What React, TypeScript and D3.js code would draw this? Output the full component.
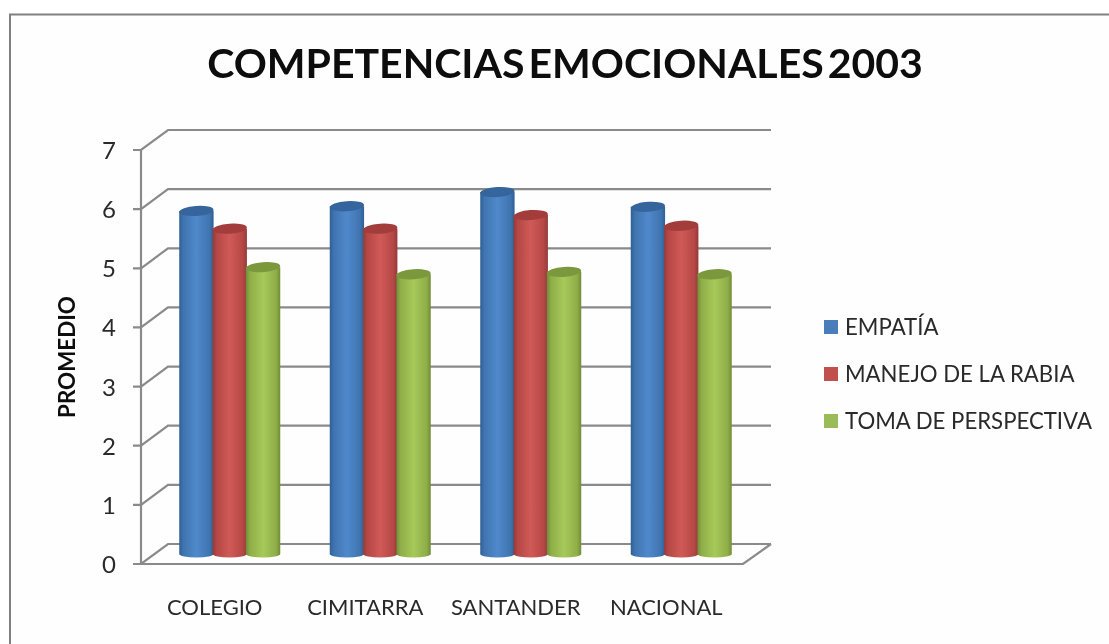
import React from "react";
import * as d3 from "d3";

const W = 1109, H = 644;
const title = "COMPETENCIAS EMOCIONALES 2003";
const yTitle = "PROMEDIO";
const categories = ["COLEGIO", "CIMITARRA", "SANTANDER", "NACIONAL"];
const seriesNames = ["EMPATÍA", "MANEJO DE LA RABIA", "TOMA DE PERSPECTIVA"];
const empatia = [5.8, 5.88, 6.12, 5.87];
const manejo = [5.5, 5.5, 5.73, 5.55];
const toma = [4.85, 4.73, 4.77, 4.73];
const yTicks = [0, 1, 2, 3, 4, 5, 6, 7];
const seriesValues = [empatia, manejo, toma];
const palette = [
  { id: "b", edge: "#2f5f94", dark: "#3f74b0", mid: "#5089cb", top: "#35659c", key: "#4a7ebb" },
  { id: "r", edge: "#923b38", dark: "#b54745", mid: "#d05a57", top: "#a23d3a", key: "#c0504d" },
  { id: "g", edge: "#718c38", dark: "#8fae48", mid: "#a6c95a", top: "#7c983e", key: "#9bbb59" },
];

const depthX = 27, depthY = 20;
const y = d3.scaleLinear().domain([0, 7]).range([564, 150]);
const x = d3.scaleBand().domain(categories).range([141, 743]);
const barShiftX = 13.5, barShiftY = 10;
const inner = d3.scaleBand().domain(seriesNames).range([-50, 50]);
const FONT = "Lato, Carlito, sans-serif";

export default function App() {
  const rx = inner.bandwidth() / 2 + 0.5;
  const ry = 5;
  const ryBase = 3.5;
  return (
    <svg width={W} height={H} viewBox={`0 0 ${W} ${H}`} style={{ position: "absolute", left: 0, top: 0, display: "block", background: "#fff" }}>
      <defs>
        {palette.map(p => (
          <linearGradient key={p.id} id={p.id} x1="0" x2="1" y1="0" y2="0">
            <stop offset="0" stopColor={p.edge} />
            <stop offset="0.12" stopColor={p.dark} />
            <stop offset="0.5" stopColor={p.mid} />
            <stop offset="0.88" stopColor={p.dark} />
            <stop offset="1" stopColor={p.edge} />
          </linearGradient>
        ))}
        <filter id="soft" x="-5%" y="-5%" width="110%" height="110%">
          <feGaussianBlur stdDeviation="0.6" />
        </filter>
      </defs>
      <g filter="url(#soft)">
        <rect x={10} y={14.5} width={1130} height={700} fill="#fefefe" stroke="#808080" strokeWidth={2} />

        {yTicks.map(t => (
          <path key={t} fill="none" stroke="#8a8a8a" strokeWidth={2.2}
            d={`M133,${y(t)}H141L${141 + depthX},${y(t) - depthY}H771`} />
        ))}
        <path d={`M141,${y(7)}V${y(0)}`} stroke="#8a8a8a" strokeWidth={2.2} fill="none" />
        <path d={`M133,${y(0)}H743L771,${y(0) - depthY}`} stroke="#8a8a8a" strokeWidth={2.2} fill="none" />

        {categories.map((c, ci) => (
          <g key={c}>
            {seriesNames.map((s, si) => {
              const v = seriesValues[si][ci];
              const cx = x(c)! + x.bandwidth() / 2 + barShiftX + inner(s)! + inner.bandwidth() / 2;
              const base = y(0) - barShiftY;
              const topY = y(v) - barShiftY;
              const p = palette[si];
              return (
                <g key={s}>
                  <path fill={`url(#${p.id})`}
                    d={`M${cx - rx},${topY}V${base}A${rx},${ryBase} 0 0 0 ${cx + rx},${base}V${topY}Z`} />
                  <ellipse cx={cx} cy={topY} rx={rx} ry={ry} fill={p.top} transform={`rotate(-4 ${cx} ${topY})`} />
                </g>
              );
            })}
          </g>
        ))}

        {yTicks.map(t => (
          <text key={t} x={116} y={y(t) + 9} textAnchor="end" fontFamily={FONT} fontSize={24} fill="#2a2a2a">{t}</text>
        ))}
        {categories.map(c => (
          <text key={c} x={x(c)! + x.bandwidth() / 2 - 1.5} y={615} textAnchor="middle" fontFamily={FONT} fontSize={22} fill="#2a2a2a">{c}</text>
        ))}
        <text transform="translate(75,357) rotate(-90)" textAnchor="middle" fontFamily={FONT} fontWeight={700} fontSize={22.4} fill="#111">{yTitle}</text>
        <text x={565} y={78} textAnchor="middle" fontFamily={FONT} fontWeight={700} fontSize={41} wordSpacing={-6} fill="#0a0a0a">{title}</text>

        {seriesNames.map((s, i) => (
          <g key={s}>
            <rect x={824} y={320 + i * 47} width={14} height={14} fill={palette[i].key} />
            <text x={845} y={335 + i * 47} fontFamily={FONT} fontSize={22.2} fill="#2a2a2a">{s}</text>
          </g>
        ))}
      </g>
    </svg>
  );
}
